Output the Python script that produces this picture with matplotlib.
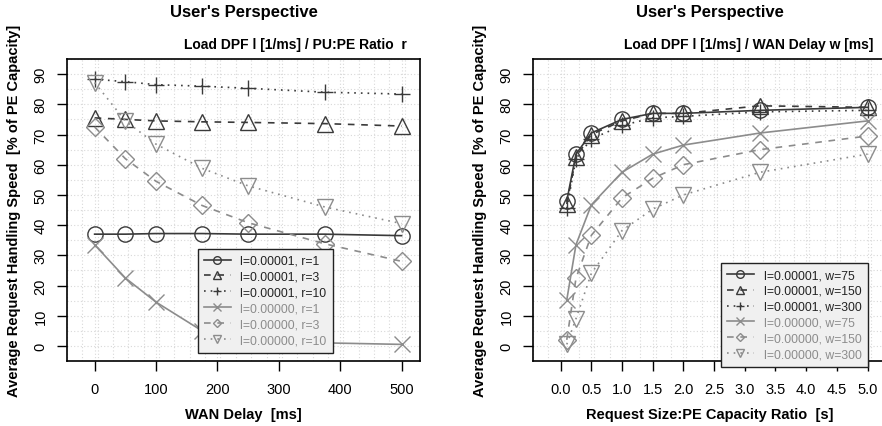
import numpy as np
import matplotlib
matplotlib.use("Agg")
import matplotlib.pyplot as plt

plt.rcParams['font.family'] = ['Liberation Sans', 'DejaVu Sans']

# left panel: WAN delay
delay = [0, 50, 100, 175, 250, 375, 500]
left_series = {
    "l=0.00001, r=1":  [37, 37, 37.2, 37.2, 37, 37, 36.5],
    "l=0.00001, r=3":  [75.5, 75, 74.5, 74.2, 74, 73.6, 72.8],
    "l=0.00001, r=10": [88.3, 87.5, 86.5, 86, 85.3, 84, 83.4],
    "l=0.00000, r=1":  [33.5, 22.5, 14.5, 5, 2.5, 1, 0.5],
    "l=0.00000, r=3":  [72.5, 62, 54.5, 46.5, 40.8, 33.8, 28],
    "l=0.00000, r=10": [87.2, 74.5, 66.8, 58.8, 53, 46, 40.5],
}

# right panel: request size
req_size = [0.1, 0.25, 0.5, 1.0, 1.5, 2.0, 3.25, 5.0]
right_series = {
    "l=0.00001, w=75":  [48, 63.5, 70.5, 75, 77, 77, 78, 79],
    "l=0.00001, w=150": [47, 62.5, 70, 74.5, 77, 77, 79.5, 79],
    "l=0.00001, w=300": [45.5, 62, 68.5, 73, 75.5, 76, 77.5, 78],
    "l=0.00000, w=75":  [15.2, 33.5, 46.7, 57.5, 63.5, 66.5, 70.5, 74.5],
    "l=0.00000, w=150": [2, 22.4, 36.6, 49, 55.5, 60, 65, 69.5],
    "l=0.00000, w=300": [0.5, 9, 24, 38.2, 45.3, 50, 57.5, 63.5],
}

dark = "#3a3a3a"
grey = "#8c8c8c"
styles = [
    (dark, "-", "o"),
    (dark, (0, (4, 4)), "^"),
    (dark, (0, (1, 3)), "+"),
    (grey, "-", "x"),
    (grey, (0, (4, 4)), "D"),
    (grey, (0, (1, 3)), "v"),
]

fig = plt.figure(figsize=(8.82, 4.27), dpi=100)
ax1 = fig.add_axes([67 / 882, 1 - 362 / 427, 353 / 882, 302 / 427])
ax2 = fig.add_axes([533 / 882, 1 - 362 / 427, 353 / 882, 302 / 427])


def draw(ax, x, series, xlim, minor_step, major_ticks, fmt, legend_anchor, legend_loc):
    ax.set_xlim(*xlim)
    ax.set_ylim(-3.6, 93.6)
    ax.set_xticks(major_ticks)
    ax.set_xticks(np.arange(xlim[0] - minor_step, xlim[1] + minor_step, minor_step), minor=True)
    ax.set_yticks(range(0, 91, 10))
    ax.set_yticks(np.arange(-5, 96, 5), minor=True)
    ax.set_xticklabels([fmt.format(t) for t in major_ticks], fontsize=10.5)
    ax.set_yticklabels([str(t) for t in range(0, 91, 10)], fontsize=10.5,
                       rotation=90, va="center")
    ax.grid(which="both", color="#d8d8d8", linestyle=(0, (1, 2)), linewidth=0.8)
    ax.set_axisbelow(True)
    ax.tick_params(which="major", direction="out", length=7, width=1)
    ax.tick_params(which="minor", length=0)
    ax.tick_params(axis="x", pad=8)
    ax.tick_params(axis="y", pad=7)
    for s in ax.spines.values():
        s.set_linewidth(1.2)
    handles = []
    for (name, vals), (col, ls, mk) in zip(series.items(), styles):
        ms = 9 if mk in "D" else 11
        h, = ax.plot(x, vals, color=col, linestyle=ls, linewidth=1.2, marker=mk,
                     markersize=ms, markerfacecolor="none", markeredgecolor=col,
                     markeredgewidth=1.0, label=name)
        handles.append(h)
    leg = ax.legend(handles=handles, loc=legend_loc, bbox_to_anchor=legend_anchor,
                    fontsize=8.8, markerscale=0.5, handlelength=2.2, handletextpad=0.8,
                    labelspacing=0.32, borderpad=0.5, fancybox=False, framealpha=1,
                    facecolor="#f0f0f0", edgecolor="#222222")
    leg.get_frame().set_linewidth(1.0)
    for t, (col, _, _) in zip(leg.get_texts(), styles):
        t.set_color("#222222" if col == dark else grey)


draw(ax1, delay, left_series, (-20, 520), 25, list(range(0, 501, 100)), "{:d}",
     (0.353, 0.392), "upper left")
draw(ax2, req_size, right_series, (-0.2, 5.2), 0.25, [i * 0.5 for i in range(11)], "{:.1f}",
     (0.965, 0.345), "upper right")

ax1.set_xlabel("WAN Delay  [ms]", fontsize=10.5, fontweight="bold", labelpad=8)
ax2.set_xlabel("Request Size:PE Capacity Ratio  [s]", fontsize=10.5, fontweight="bold", labelpad=8)
for ax in (ax1, ax2):
    ax.set_ylabel("Average Request Handling Speed  [% of PE Capacity]", fontsize=10.5,
                  fontweight="bold", labelpad=9)

fig.text(243.5 / 882, 1 - 13 / 427, "User's Perspective", ha="center", va="center",
         fontsize=12, fontweight="bold")
fig.text(709.5 / 882, 1 - 13 / 427, "User's Perspective", ha="center", va="center",
         fontsize=12, fontweight="bold")
fig.text(407 / 882, 1 - 45 / 427, "Load DPF l [1/ms] / PU:PE Ratio  r", ha="right",
         va="center", fontsize=10, fontweight="bold")
fig.text(873 / 882, 1 - 45 / 427, "Load DPF l [1/ms] / WAN Delay w [ms]", ha="right",
         va="center", fontsize=10, fontweight="bold")

fig.savefig("out.png", dpi=100)
